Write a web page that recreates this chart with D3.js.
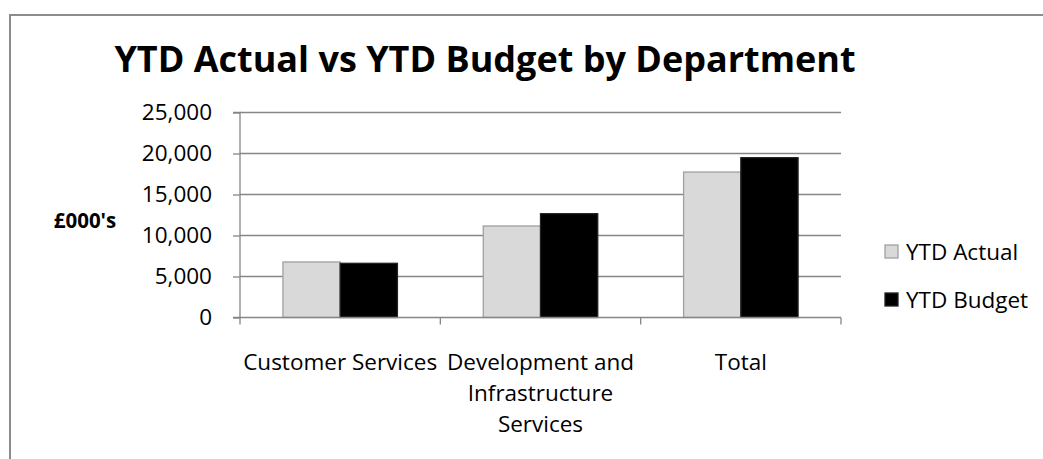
<!DOCTYPE html>
<html>
<head>
<meta charset="utf-8">
<script src="https://cdn.jsdelivr.net/npm/d3@7"></script>
<style>
  html, body { margin: 0; padding: 0; background: #fff; }
  svg { display: block; font-family: "Open Sans", "Noto Sans", sans-serif; }
</style>
</head>
<body>
<svg id="chart" width="1043" height="459"></svg>
<script>
const categories = ["Customer Services", "Development and Infrastructure Services", "Total"];
const categoryLines = [["Customer Services"], ["Development and", "Infrastructure", "Services"], ["Total"]];
const seriesNames = ["YTD Actual", "YTD Budget"];
const ytdActual = [6770, 11160, 17740];
const ytdBudget = [6610, 12660, 19490];
const yTicks = [0, 5000, 10000, 15000, 20000, 25000];
const titleText = "YTD Actual vs YTD Budget by Department";
const yAxisTitle = "£000's";

const colors = { "YTD Actual": "#d9d9d9", "YTD Budget": "#000000" };
const strokes = { "YTD Actual": "#a0a0a0", "YTD Budget": "#222222" };
const gridColor = "#868686";

const svg = d3.select("#chart");
const plot = { left: 240, right: 841, top: 112.5, bottom: 317.5 };

// outer border (extends past viewport on right/bottom)
svg.append("rect")
  .attr("x", 10).attr("y", 15).attr("width", 1200).attr("height", 600)
  .attr("fill", "none").attr("stroke", "#8c8c8c").attr("stroke-width", 2);

const x0 = d3.scaleBand().domain(categories).range([plot.left, plot.right]).paddingInner(0).paddingOuter(0);
const groupFrac = 2 / 3.5;
const x1 = d3.scaleBand().domain(seriesNames)
  .range([x0.bandwidth() * (1 - groupFrac) / 2, x0.bandwidth() * (1 + groupFrac) / 2]).padding(0);
const y = d3.scaleLinear().domain([0, 25000]).range([plot.bottom, plot.top]);

// gridlines
svg.append("g").selectAll("line").data(yTicks.filter(d => d > 0)).join("line")
  .attr("x1", plot.left).attr("x2", plot.right)
  .attr("y1", d => y(d)).attr("y2", d => y(d))
  .attr("stroke", gridColor).attr("stroke-width", 1.3);

// y axis
const yAxis = d3.axisLeft(y).tickValues(yTicks).tickSize(7).tickPadding(21)
  .tickFormat(d3.format(","));
const gy = svg.append("g").attr("transform", `translate(${plot.left},0)`).call(yAxis);
gy.select(".domain").attr("stroke", gridColor).attr("stroke-width", 1.3).attr("d", `M-7,${plot.top}H0V${plot.bottom}H-7`);
gy.selectAll(".tick line").attr("stroke", gridColor).attr("stroke-width", 1.3);
gy.selectAll(".tick text").attr("font-size", 22.5).attr("fill", "#000")
  .attr("font-family", "Open Sans, sans-serif");

// bars
const rows = categories.map((c, i) => ({ cat: c, vals: [ytdActual[i], ytdBudget[i]] }));
const g = svg.append("g");
rows.forEach(r => {
  seriesNames.forEach((s, j) => {
    const v = r.vals[j];
    g.append("rect")
      .attr("x", x0(r.cat) + x1(s))
      .attr("y", y(v))
      .attr("width", x1.bandwidth())
      .attr("height", y(0) - y(v))
      .attr("fill", colors[s])
      .attr("stroke", strokes[s]).attr("stroke-width", 1.3);
  });
});

// x axis
const xAxis = d3.axisBottom(x0).tickSize(0).tickFormat("");
const gx = svg.append("g").attr("transform", `translate(0,${plot.bottom})`).call(xAxis);
gx.select(".domain").attr("stroke", gridColor).attr("stroke-width", 1.3).attr("d", `M${plot.left},0H${plot.right}`);
const boundaries = categories.map(c => x0(c)).concat([x0(categories[categories.length - 1]) + x0.bandwidth()]);
gx.selectAll(".bnd").data(boundaries).join("line").attr("class", "bnd")
  .attr("x1", d => d).attr("x2", d => d).attr("y1", 0).attr("y2", 7)
  .attr("stroke", gridColor).attr("stroke-width", 1.3);

// category labels
categories.forEach((c, i) => {
  const cx = x0(c) + x0.bandwidth() / 2;
  const t = svg.append("text").attr("text-anchor", "middle").attr("font-size", 22.5).attr("fill", "#000");
  categoryLines[i].forEach((ln, k) => {
    t.append("tspan").attr("x", cx).attr("y", 370 + k * 31).text(ln);
  });
});

// title
svg.append("text").attr("x", 485).attr("y", 72).attr("text-anchor", "middle")
  .attr("font-size", 36).attr("font-weight", "bold").attr("fill", "#000").text(titleText);

// y axis title
svg.append("text").attr("x", 85).attr("y", 228).attr("text-anchor", "middle")
  .attr("font-size", 20.5).attr("font-weight", "bold").attr("fill", "#000").text(yAxisTitle);

// legend
const leg = svg.append("g");
seriesNames.forEach((s, i) => {
  const ly = 252 + i * 48;
  leg.append("rect").attr("x", 885).attr("y", ly - 7).attr("width", 13).attr("height", 13)
    .attr("fill", colors[s]).attr("stroke", strokes[s]).attr("stroke-width", 1.3);
  leg.append("text").attr("x", 906).attr("y", ly + 8).attr("font-size", 22.5).attr("fill", "#000").text(s);
});
</script>
</body>
</html>
